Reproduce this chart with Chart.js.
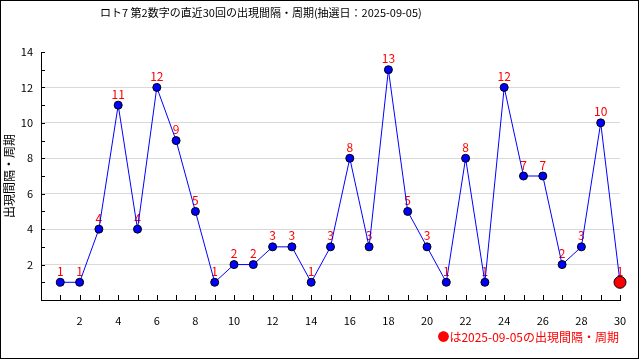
<!DOCTYPE html>
<html lang="ja">
<head>
<meta charset="UTF-8">
<title>ロト7 第2数字の出現間隔・周期</title>
<script src="https://cdn.jsdelivr.net/npm/chart.js"></script>
<style>
  html, body { margin: 0; padding: 0; background: #fff; }
  #wrap { width: 640px; height: 360px; }
</style>
</head>
<body>
<div id="wrap"><canvas id="gapChart" width="640" height="360"></canvas></div>
<script>
const chartTitle = "ロト7 第2数字の直近30回の出現間隔・周期(抽選日：2025-09-05)";
const noteText = "●は2025-09-05の出現間隔・周期";
const yAxisTitle = "出現間隔・周期";

// draw index (1 = oldest) and interval values
const drawNo = [1, 2, 3, 4, 5, 6, 7, 8, 9, 10, 11, 12, 13, 14, 15,
                16, 17, 18, 19, 20, 21, 22, 23, 24, 25, 26, 27, 28, 29, 30];
const intervals = [1, 1, 4, 11, 4, 12, 9, 5, 1, 2, 2, 3, 3, 1, 3,
                   8, 3, 13, 5, 3, 1, 8, 1, 12, 7, 7, 2, 3, 10, 1];

const xTickLabels = [2, 4, 6, 8, 10, 12, 14, 16, 18, 20, 22, 24, 26, 28, 30];
const yTickLabels = [2, 4, 6, 8, 10, 12, 14];

const FONT = '"Noto Sans CJK JP", "DejaVu Sans", sans-serif';
Chart.defaults.font.family = FONT;
Chart.defaults.color = "#000";

const lastIdx = intervals.length - 1;
const points = drawNo.map((d, i) => ({ x: d, y: intervals[i] }));

// small tick marks drawn inside the plot, plus value labels
const decorPlugin = {
    id: "decor",
    beforeDatasetsDraw(chart) {
        const ctx = chart.ctx;
        const xs = chart.scales.x, ys = chart.scales.y;
        const area = chart.chartArea;
        ctx.save();
        ctx.strokeStyle = "#000";
        ctx.lineWidth = 1;
        ctx.beginPath();
        for (let v = 1; v <= 30; v++) {
            const px = Math.round(xs.getPixelForValue(v)) + 0.5;
            ctx.moveTo(px, area.bottom);
            ctx.lineTo(px, area.bottom - 5);
        }
        for (let v = 1; v <= 14; v++) {
            const py = Math.round(ys.getPixelForValue(v)) + 0.5;
            ctx.moveTo(area.left, py);
            ctx.lineTo(area.left + 4, py);
        }
        ctx.stroke();

        // value labels (under the line, like the original)
        const meta = chart.getDatasetMeta(0);
        ctx.fillStyle = "#ff0000";
        ctx.font = "12px " + FONT;
        ctx.textAlign = "center";
        ctx.textBaseline = "middle";
        meta.data.forEach((pt, i) => {
            ctx.fillText(String(intervals[i]), pt.x, pt.y - 11);
        });
        ctx.restore();
    },
    afterDraw(chart) {
        const ctx = chart.ctx;
        ctx.save();
        ctx.fillStyle = "#000";
        ctx.font = "11px " + FONT;
        ctx.textAlign = "left";
        ctx.textBaseline = "middle";
        ctx.fillText(chartTitle, 100, 13);

        ctx.fillStyle = "#ff0000";
        ctx.font = "12px " + FONT;
        ctx.textAlign = "right";
        ctx.fillText(noteText, 619, 337);

        ctx.strokeStyle = "#000";
        ctx.lineWidth = 1;
        ctx.strokeRect(0.5, 0.5, 638, 358);
        ctx.restore();
    }
};

new Chart(document.getElementById("gapChart"), {
    type: "line",
    data: {
        datasets: [{
            data: points,
            borderColor: "#0000ff",
            borderWidth: 1,
            tension: 0,
            clip: false,
            pointBackgroundColor: intervals.map((v, i) => i === lastIdx ? "#ff0000" : "#0000ff"),
            pointBorderColor: "#000",
            pointBorderWidth: 1,
            pointRadius: intervals.map((v, i) => i === lastIdx ? 6 : 4),
            pointHoverRadius: intervals.map((v, i) => i === lastIdx ? 6 : 4)
        }]
    },
    options: {
        responsive: false,
        animation: false,
        layout: { padding: { top: 52, right: 20, left: 0, bottom: 0 } },
        plugins: {
            legend: { display: false },
            title: { display: false },
            tooltip: { enabled: false }
        },
        scales: {
            x: {
                type: "linear",
                min: 0,
                max: 30,
                afterFit: s => { s.height = 60; },
                afterBuildTicks: s => { s.ticks = xTickLabels.map(v => ({ value: v })); },
                grid: { display: false },
                border: { display: true, color: "#000", width: 1 },
                ticks: { font: { size: 11 }, color: "#000", padding: 6, maxRotation: 0 }
            },
            y: {
                min: 0,
                max: 14,
                afterFit: s => { s.width = 41; },
                afterBuildTicks: s => { s.ticks = yTickLabels.map(v => ({ value: v })); },
                grid: {
                    drawTicks: false,
                    color: ctx => ctx.tick && ctx.tick.value === 14 ? "rgba(0,0,0,0)" : "#d9d9d9"
                },
                border: { display: true, color: "#000", width: 1 },
                ticks: { font: { size: 11 }, color: "#000", padding: 8 },
                title: {
                    display: true,
                    text: yAxisTitle,
                    font: { size: 12 },
                    color: "#000",
                    padding: { top: 2, bottom: 0 }
                }
            }
        }
    },
    plugins: [decorPlugin]
});
</script>
</body>
</html>
